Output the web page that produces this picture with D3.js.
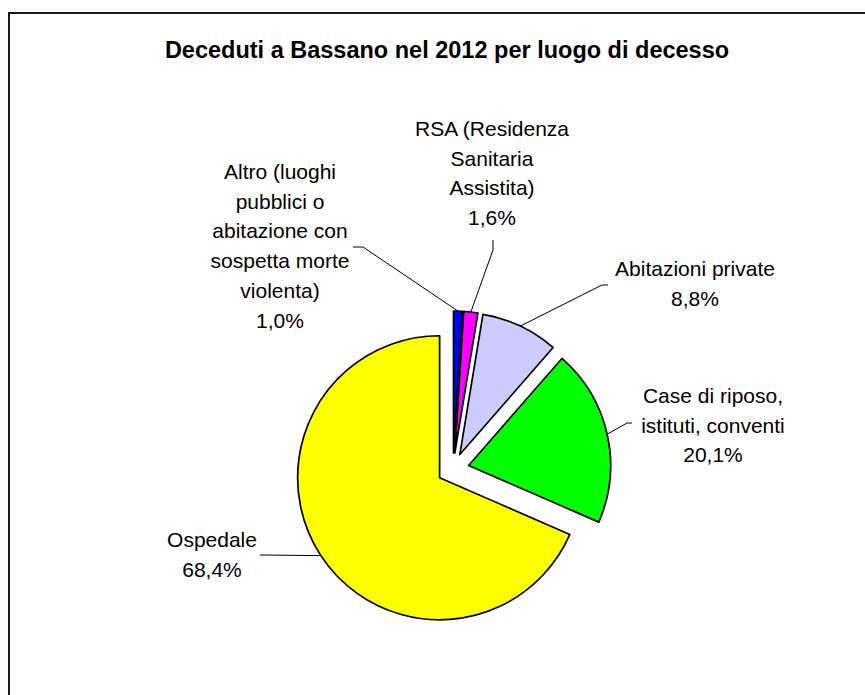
<!DOCTYPE html>
<html>
<head>
<meta charset="utf-8">
<script src="https://cdnjs.cloudflare.com/ajax/libs/d3/7.8.5/d3.min.js"></script>
<style>
  body { margin: 0; background: #fff; }
  svg { display: block; }
  text { font-family: "Liberation Sans", Arial, sans-serif; fill: #000; }
</style>
</head>
<body>
<div class="chart"></div>
<script>
// data
var categories = [
  "Altro (luoghi pubblici o abitazione con sospetta morte violenta)",
  "RSA (Residenza Sanitaria Assistita)",
  "Abitazioni private",
  "Case di riposo, istituti, conventi",
  "Ospedale"
];
var values = [1.0, 1.6, 8.8, 20.1, 68.4];
// category names broken as in the picture
var labelLines = [
  ["Altro (luoghi", "pubblici o", "abitazione con", "sospetta morte", "violenta)"],
  ["RSA (Residenza", "Sanitaria", "Assistita)"],
  ["Abitazioni private"],
  ["Case di riposo,", "istituti, conventi"],
  ["Ospedale"]
];
var colors = ["#0000ff", "#ff00ff", "#ccccff", "#00ff00", "#ffff00"];

var chart = {
  width: 865,
  height: 695,
  cx: 453,
  cy: 469,
  radius: 142,
  explode: 16,
  lineHeight: 29.7,
  // label block placement relative to pie center: text x, first baseline, leader start, leader elbow
  labels: [
    { x: -173, y: -290, sx: -100, sy: -222, ex: -90, ey: -222 },
    { x: 39, y: -333, sx: 40, sy: -229, ex: 40, ey: -219 },
    { x: 242, y: -193, sx: 155, sy: -184, ex: 149, ey: -184 },
    { x: 260, y: -66, sx: 179, sy: -46, ex: 174, ey: -46 },
    { x: -241, y: 78, sx: -193, sy: 86, ex: -193, ey: 86 }
  ]
};

var pctFormat = function(v) { return d3.format(".1f")(v).replace(".", ",") + "%"; };

var svg = d3.select(".chart")
  .append("svg")
  .attr("width", chart.width)
  .attr("height", chart.height);

svg.append("rect")
  .attr("x", 9).attr("y", 13)
  .attr("width", 950).attr("height", 800)
  .attr("fill", "none")
  .attr("stroke", "#1a1a1a")
  .attr("stroke-width", 2);

svg.append("text")
  .attr("x", 447)
  .attr("y", 58)
  .attr("text-anchor", "middle")
  .style("font-size", "23.5px")
  .style("font-weight", "bold")
  .text("Deceduti a Bassano nel 2012 per luogo di decesso");

var pie = d3.pie().sort(null).value(function(d) { return d; });
var arcs = pie(values);
var arc = d3.arc().innerRadius(0).outerRadius(chart.radius);
var rim = d3.arc().innerRadius(chart.radius).outerRadius(chart.radius);

var g = svg.append("g")
  .attr("transform", "translate(" + chart.cx + "," + chart.cy + ")");

function shift(d) {
  var mid = (d.startAngle + d.endAngle) / 2;
  return [chart.explode * Math.sin(mid), -chart.explode * Math.cos(mid)];
}

g.selectAll("path.slice")
  .data(arcs)
  .enter()
  .append("path")
  .classed("slice", true)
  .attr("d", arc)
  .attr("transform", function(d) { var s = shift(d); return "translate(" + s[0] + "," + s[1] + ")"; })
  .attr("fill", function(d, i) { return colors[i]; })
  .attr("stroke", "#000")
  .attr("stroke-width", 1.7)
  .attr("stroke-linejoin", "round");

// leader lines from each slice rim to its label
g.selectAll("polyline.leader")
  .data(arcs)
  .enter()
  .append("polyline")
  .classed("leader", true)
  .attr("points", function(d, i) {
    var s = shift(d), p = rim.centroid(d), l = chart.labels[i];
    return [[l.sx, l.sy], [l.ex, l.ey], [p[0] + s[0], p[1] + s[1]]].join(" ");
  })
  .attr("fill", "none")
  .attr("stroke", "#000")
  .attr("stroke-width", 1);

var labels = g.selectAll("text.label")
  .data(arcs)
  .enter()
  .append("text")
  .classed("label", true)
  .attr("text-anchor", "middle")
  .style("font-size", "21px");

labels.each(function(d, i) {
  var l = chart.labels[i];
  var lines = labelLines[i].concat([pctFormat(values[i])]);
  d3.select(this).selectAll("tspan")
    .data(lines)
    .enter()
    .append("tspan")
    .attr("x", l.x)
    .attr("y", function(t, j) { return l.y + j * chart.lineHeight; })
    .text(function(t) { return t; });
});
</script>
</body>
</html>
